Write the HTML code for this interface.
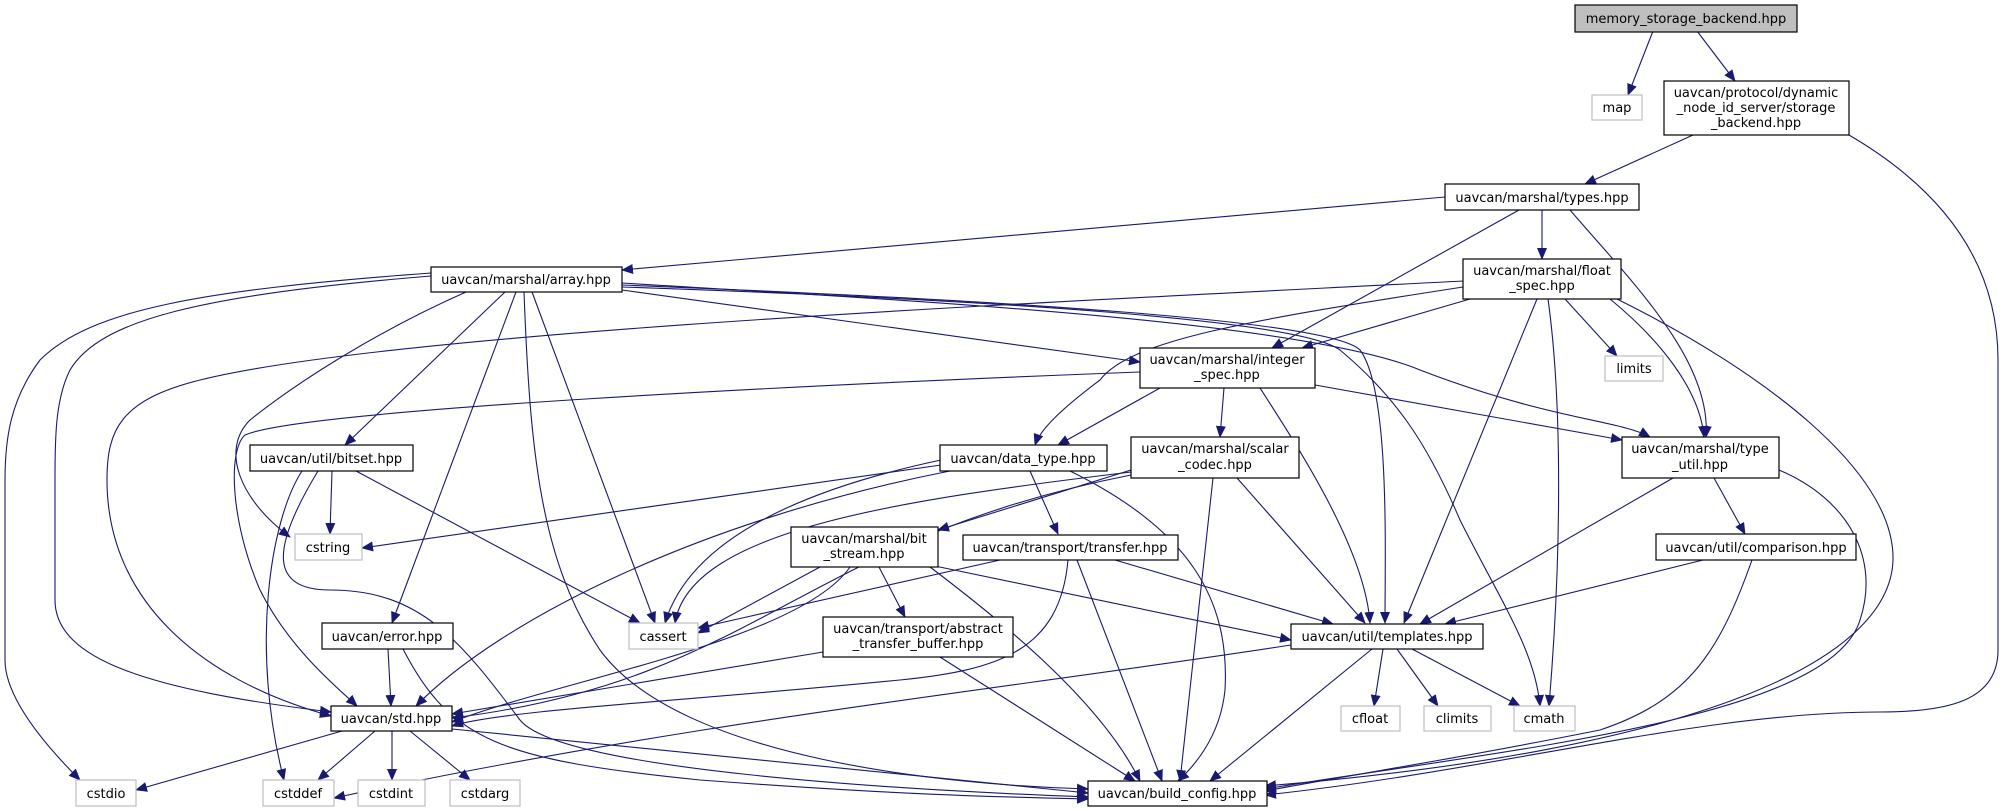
<!DOCTYPE html>
<html><head><meta charset="utf-8"><style>
html,body{margin:0;padding:0;background:#fff;}
svg{display:block;}
text{font-family:"DejaVu Sans","Liberation Sans",sans-serif;font-size:13px;fill:#000;text-anchor:middle;}
.n{fill:#fff;stroke:#000;stroke-width:1.2;}
.g{fill:#fff;stroke:#bfbfbf;stroke-width:1.2;}
.e{fill:none;stroke:#191970;stroke-width:1.1;}
</style></head><body>
<svg width="2005" height="812" viewBox="0 0 2005 812" xmlns="http://www.w3.org/2000/svg">
<defs><marker id="a" markerUnits="userSpaceOnUse" markerWidth="12" markerHeight="10" refX="11" refY="5" orient="auto"><path d="M0,0 L12,5 L0,10 z" fill="#191970"/></marker></defs>
<g class="e" marker-end="url(#a)">
<path d="M1653,31 L1628,95"/>
<path d="M1697,31 L1735,81"/>
<path d="M1693,135 L1585,184"/>
<path d="M1849,135 C1960,200 1998,280 1998,360 L1998,650 C1998,700 1950,712 1880,712 C1700,712 1500,770 1265,795"/>
<path d="M1445,197 L622,270"/>
<path d="M1542,210 L1542,259"/>
<path d="M1519,210 L1272,348"/>
<path d="M1570,210 C1630,280 1712,360 1706,437"/>
<path d="M1470,299 L1302,348"/>
<path d="M1463,287 C1250,320 1130,340 1100,380 C1060,410 1040,430 1035,445"/>
<path d="M1463,281 C1100,300 400,330 200,380 C120,400 107,430 107,480 C107,600 200,680 331,716"/>
<path d="M1565,299 L1617,356"/>
<path d="M1610,299 C1660,340 1700,390 1704,437"/>
<path d="M1537,299 L1404,623"/>
<path d="M1548,299 C1562,400 1562,550 1549,706"/>
<path d="M1617,299 C1760,370 1895,470 1893,560 C1890,660 1700,750 1265,786"/>
<path d="M622,290 L1140,362"/>
<path d="M622,283 C900,300 1300,320 1420,370 C1550,420 1620,420 1650,437"/>
<path d="M622,285 C1000,300 1330,320 1360,350 C1390,390 1385,550 1385,623"/>
<path d="M622,287 C1000,300 1300,320 1340,350 C1400,400 1430,450 1460,520 C1500,600 1535,650 1540,706"/>
<path d="M1160,388 L1058,445"/>
<path d="M1224,388 L1220,437"/>
<path d="M1260,388 C1300,450 1365,550 1370,623"/>
<path d="M1315,385 L1622,440"/>
<path d="M1140,372 C800,385 300,410 245,435 C228,450 230,520 260,590 C290,650 340,690 357,706"/>
<path d="M941,465 L362,548"/>
<path d="M941,460 C800,490 690,540 665,623"/>
<path d="M950,471 C700,520 500,620 416,706"/>
<path d="M1030,471 L1058,534"/>
<path d="M1070,471 C1190,530 1230,600 1225,690 C1220,740 1190,770 1178,781"/>
<path d="M1131,470 L938,530"/>
<path d="M1131,472 C900,500 690,530 675,623"/>
<path d="M1131,475 C800,540 760,680 452,718"/>
<path d="M1237,478 L1365,623"/>
<path d="M1213,478 L1180,781"/>
<path d="M332,471 L330,534"/>
<path d="M356,471 L640,623"/>
<path d="M302,471 C270,520 250,650 284,780"/>
<path d="M318,471 C270,550 270,590 330,590 C420,590 460,640 520,720 C560,770 900,790 1088,797"/>
<path d="M820,567 L698,633"/>
<path d="M850,567 C800,640 560,680 452,722"/>
<path d="M879,567 L905,617"/>
<path d="M930,565 L1291,640"/>
<path d="M930,567 C1000,620 1100,700 1140,781"/>
<path d="M1000,560 L698,628"/>
<path d="M1115,560 L1333,624"/>
<path d="M1077,560 L1162,781"/>
<path d="M1068,560 C1060,650 1000,670 900,680 C700,700 500,710 452,726"/>
<path d="M823,652 L452,714"/>
<path d="M940,657 L1135,781"/>
<path d="M388,649 L391,706"/>
<path d="M403,649 C450,740 500,760 700,780 C900,795 1000,797 1088,799"/>
<path d="M342,731 L136,790"/>
<path d="M375,731 L318,780"/>
<path d="M392,731 L392,780"/>
<path d="M410,731 L470,780"/>
<path d="M452,729 L1088,793"/>
<path d="M1383,649 L1374,706"/>
<path d="M1397,649 L1438,706"/>
<path d="M1412,649 L1520,706"/>
<path d="M1291,645 C1000,690 700,720 334,798"/>
<path d="M1372,649 L1210,781"/>
<path d="M1673,478 L1420,624"/>
<path d="M1714,478 L1745,534"/>
<path d="M1779,470 C1850,500 1880,560 1860,620 C1830,720 1500,750 1265,789"/>
<path d="M1703,560 L1445,624"/>
<path d="M1752,560 C1720,650 1690,700 1600,730 C1450,760 1350,775 1265,791"/>
<path d="M431,273 C200,290 90,310 40,360 C10,400 5,440 5,480 L5,660 C5,700 50,750 80,780"/>
<path d="M431,276 C200,295 100,320 70,370 C55,400 55,440 55,480 L55,600 C55,660 150,690 331,712"/>
<path d="M466,292 C380,330 300,380 250,420 C220,450 240,500 290,537"/>
<path d="M505,292 L345,445"/>
<path d="M516,292 L392,623"/>
<path d="M524,292 C530,450 540,560 600,650 C680,760 950,785 1088,789"/>
<path d="M532,292 L655,623"/>
</g>
<rect x="1575" y="5" width="222" height="27" fill="#bfbfbf" stroke="#000" stroke-width="1.2"/>
<text x="1686" y="23">memory_storage_backend.hpp</text>
<rect class="g" x="1592" y="95" width="50" height="25"/><text x="1617" y="112">map</text>
<rect class="n" x="1664" y="81" width="185" height="54"/>
<text x="1756" y="97">uavcan/protocol/dynamic</text><text x="1756" y="112">_node_id_server/storage</text><text x="1756" y="127">_backend.hpp</text>
<rect class="n" x="1445" y="184" width="194" height="26"/><text x="1542" y="202">uavcan/marshal/types.hpp</text>
<rect class="n" x="1463" y="259" width="158" height="40"/><text x="1542" y="275">uavcan/marshal/float</text><text x="1542" y="290">_spec.hpp</text>
<rect class="g" x="1605" y="356" width="58" height="25"/><text x="1634" y="373">limits</text>
<rect class="n" x="1140" y="348" width="175" height="40"/><text x="1227" y="364">uavcan/marshal/integer</text><text x="1227" y="379">_spec.hpp</text>
<rect class="n" x="431" y="267" width="191" height="25"/><text x="526" y="284">uavcan/marshal/array.hpp</text>
<rect class="n" x="250" y="445" width="163" height="26"/><text x="331" y="463">uavcan/util/bitset.hpp</text>
<rect class="g" x="295" y="534" width="67" height="26"/><text x="328" y="552">cstring</text>
<rect class="n" x="322" y="623" width="131" height="26"/><text x="387" y="641">uavcan/error.hpp</text>
<rect class="g" x="629" y="623" width="69" height="26"/><text x="663" y="641">cassert</text>
<rect class="n" x="331" y="706" width="121" height="25"/><text x="391" y="723">uavcan/std.hpp</text>
<rect class="g" x="76" y="780" width="60" height="26"/><text x="106" y="798">cstdio</text>
<rect class="g" x="263" y="780" width="71" height="26"/><text x="298" y="798">cstddef</text>
<rect class="g" x="358" y="780" width="67" height="26"/><text x="391" y="798">cstdint</text>
<rect class="g" x="450" y="780" width="70" height="26"/><text x="485" y="798">cstdarg</text>
<rect class="n" x="940" y="445" width="167" height="26"/><text x="1023" y="463">uavcan/data_type.hpp</text>
<rect class="n" x="1131" y="437" width="168" height="41"/><text x="1215" y="453">uavcan/marshal/scalar</text><text x="1215" y="469">_codec.hpp</text>
<rect class="n" x="1622" y="437" width="157" height="41"/><text x="1700" y="453">uavcan/marshal/type</text><text x="1700" y="469">_util.hpp</text>
<rect class="n" x="791" y="527" width="147" height="40"/><text x="864" y="543">uavcan/marshal/bit</text><text x="864" y="558">_stream.hpp</text>
<rect class="n" x="963" y="535" width="215" height="25"/><text x="1070" y="552">uavcan/transport/transfer.hpp</text>
<rect class="n" x="1656" y="534" width="200" height="26"/><text x="1756" y="552">uavcan/util/comparison.hpp</text>
<rect class="n" x="823" y="617" width="190" height="40"/><text x="918" y="633">uavcan/transport/abstract</text><text x="918" y="648">_transfer_buffer.hpp</text>
<rect class="n" x="1291" y="624" width="192" height="25"/><text x="1387" y="641">uavcan/util/templates.hpp</text>
<rect class="g" x="1341" y="706" width="59" height="25"/><text x="1370" y="723">cfloat</text>
<rect class="g" x="1424" y="706" width="67" height="25"/><text x="1457" y="723">climits</text>
<rect class="g" x="1514" y="706" width="61" height="25"/><text x="1544" y="723">cmath</text>
<rect class="n" x="1088" y="781" width="179" height="25"/><text x="1177" y="798">uavcan/build_config.hpp</text>
</svg>
</body></html>
